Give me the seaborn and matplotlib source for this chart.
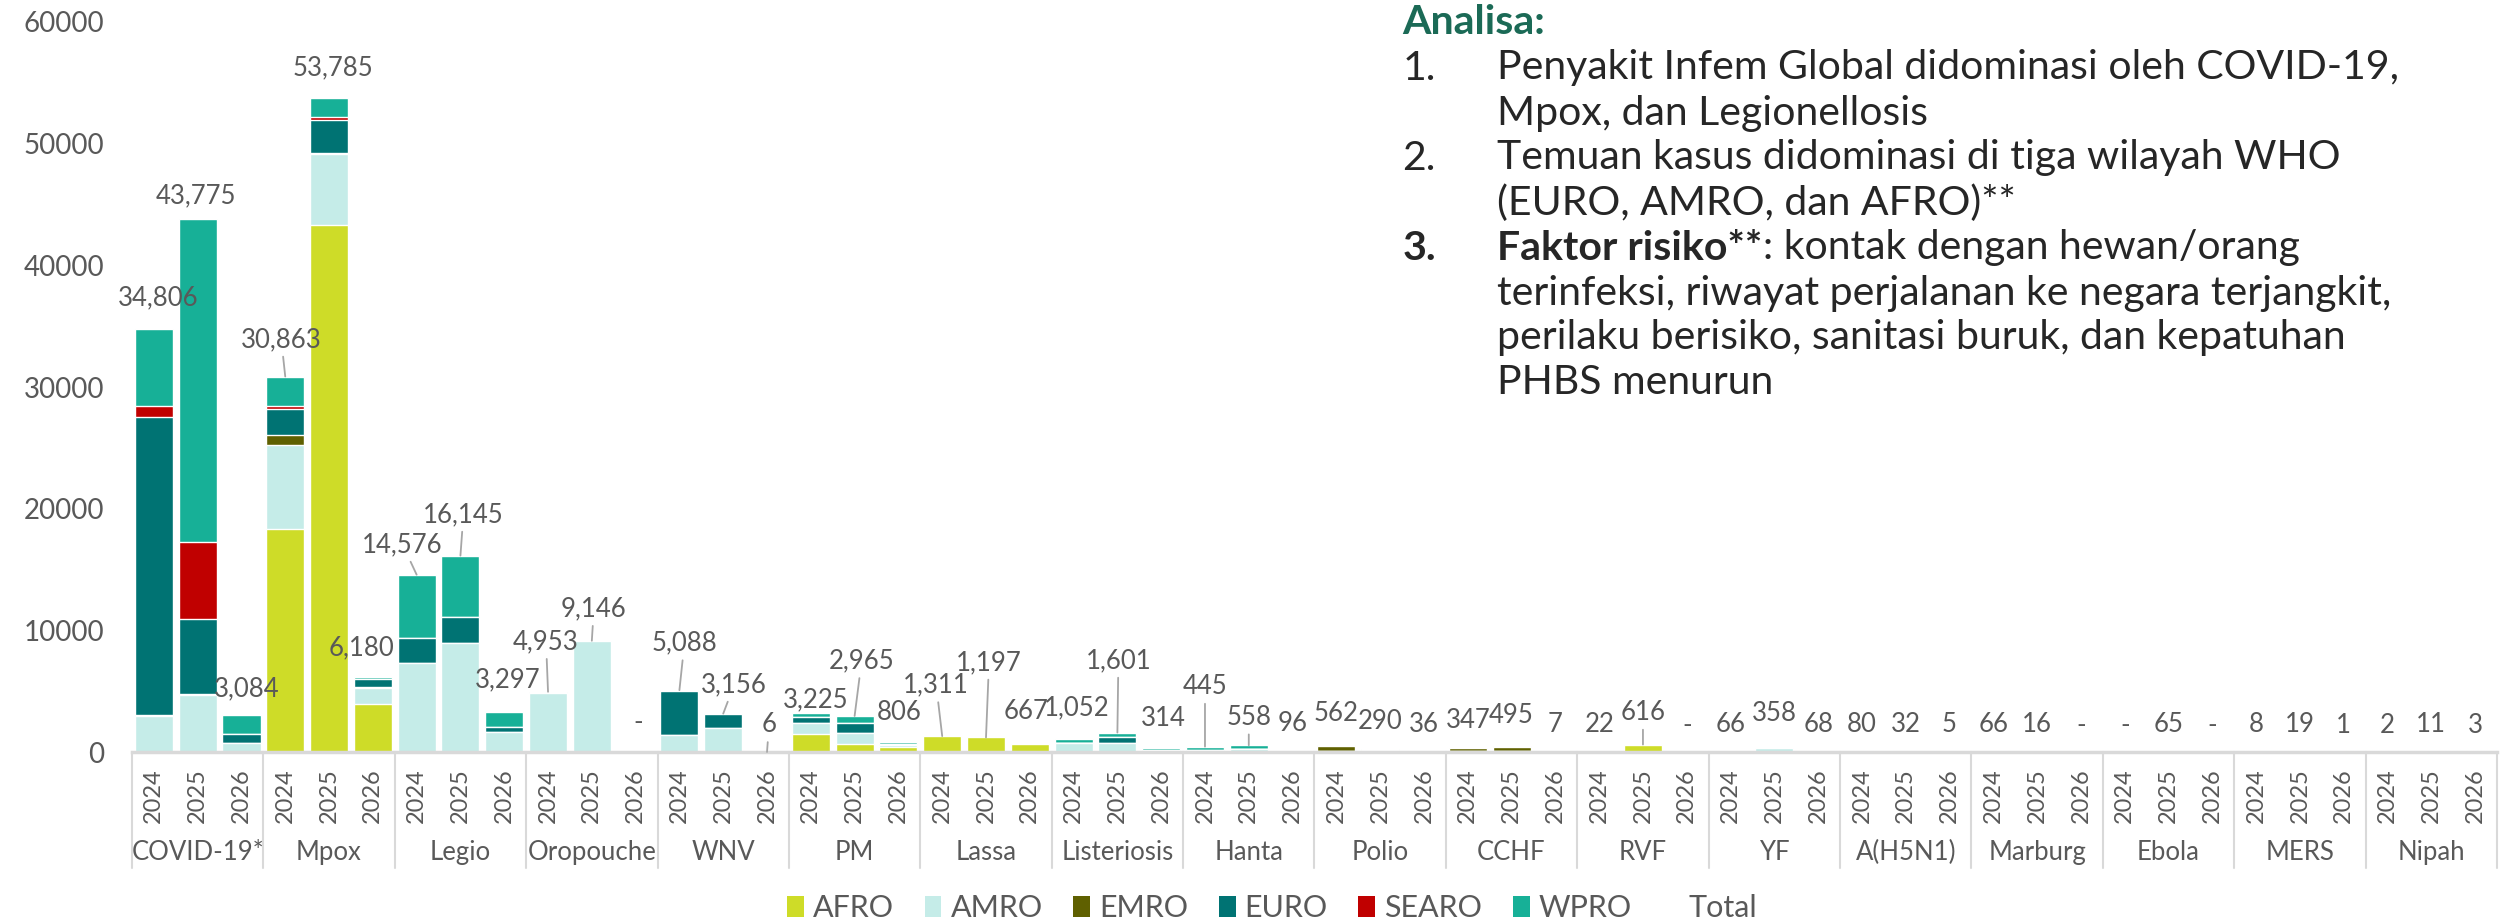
import numpy as np
import pandas as pd
import seaborn as sns
import matplotlib.pyplot as plt
from matplotlib.patches import Patch
from matplotlib import transforms

diseases = ['COVID-19*', 'Mpox', 'Legio', 'Oropouche', 'WNV', 'PM', 'Lassa',
            'Listeriosis', 'Hanta', 'Polio', 'CCHF', 'RVF', 'YF', 'A(H5N1)',
            'Marburg', 'Ebola', 'MERS', 'Nipah']
years = ['2024', '2025', '2026']
regions = ['AFRO', 'AMRO', 'EMRO', 'EURO', 'SEARO', 'WPRO']

# cases per WHO region, one [2024, 2025, 2026] triple per disease
afro = [[0, 0, 0], [18330, 43292, 3926], [0, 0, 0], [0, 0, 0], [0, 0, 0],
        [1480, 660, 400], [1280, 1197, 667], [0, 0, 0], [0, 0, 0],
        [90, 160, 20], [60, 50, 0], [22, 616, 0], [26, 0, 8], [0, 0, 0],
        [66, 16, 0], [0, 65, 0], [0, 0, 0], [0, 0, 0]]
amro = [[2950, 4700, 720], [6937, 5818, 1368], [7300, 9000, 1674], [4860, 9090, 0],
        [1400, 1960, 0], [930, 930, 150], [31, 0, 0], [760, 760, 0],
        [120, 280, 50], [0, 0, 0], [0, 0, 0], [0, 0, 0], [40, 358, 60],
        [66, 20, 0], [0, 0, 0], [0, 0, 0], [0, 0, 0], [0, 0, 0]]
emro = [[100, 100, 0], [824, 100, 20], [0, 0, 0], [0, 0, 0], [0, 0, 0],
        [0, 0, 0], [0, 0, 0], [0, 0, 0], [0, 0, 0], [390, 40, 16],
        [280, 360, 7], [0, 0, 0], [0, 0, 0], [0, 0, 0], [0, 0, 0],
        [0, 0, 0], [8, 19, 1], [0, 0, 0]]
euro = [[24500, 6150, 760], [2115, 2724, 670], [2110, 2060, 356], [93, 56, 0],
        [3620, 1150, 6], [440, 770, 150], [0, 0, 0], [0, 500, 180],
        [25, 0, 0], [0, 0, 0], [7, 0, 0], [0, 0, 0], [0, 0, 0], [0, 0, 0],
        [0, 0, 0], [0, 0, 0], [0, 0, 0], [0, 0, 0]]
searo = [[930, 6330, 0], [214, 222, 50], [0, 0, 0], [0, 0, 0], [0, 0, 0],
         [0, 0, 0], [0, 0, 0], [0, 0, 0], [0, 0, 0], [82, 0, 0],
         [0, 85, 0], [0, 0, 0], [0, 0, 0], [0, 0, 0], [0, 0, 0],
         [0, 0, 0], [0, 0, 0], [2, 11, 3]]
wpro = [[6326, 26495, 1604], [2443, 1629, 146], [5166, 5085, 1267], [0, 0, 0],
        [68, 46, 0], [375, 605, 106], [0, 0, 0], [292, 341, 134],
        [300, 278, 46], [0, 90, 0], [0, 0, 0], [0, 0, 0], [0, 0, 0],
        [14, 12, 5], [0, 0, 0], [0, 0, 0], [0, 0, 0], [0, 0, 0]]

colors = {'AFRO': '#CEDC28', 'AMRO': '#C5ECE8', 'EMRO': '#5F6000',
          'EURO': '#007373', 'SEARO': '#C00000', 'WPRO': '#17B097'}

# label placement (pixels from bar top) and leader-line flags
label_dx = [4, -2, 5, -4, 4, -11, -14, 3, 3, -2, 2, 3, 5, 11, 2, 5, 7, 1, -6, 3, -4,
            3, 1, 2, 0, 0] + [0] * 28
label_dy = [31, 24, 26, 37, 30, 29, 30, 41, 32, 50, 32, 30, 47, 29, 27, 13, 55, 30,
            51, 75, 32, 31, 72, 30, 60, 28] + [27] * 28
label_dy[27] = 32
label_dy[31] = 31
label_dy[34] = 32
label_dy[37] = 34
leaders = {3, 6, 7, 9, 10, 12, 13, 14, 16, 18, 19, 22, 24, 25, 34}

# long table
rows = []
for d, name in enumerate(diseases):
    for y, yr in enumerate(years):
        row = {'disease': name, 'year': yr, 'bar': name + ' ' + yr}
        for reg, vals in zip(regions, [afro, amro, emro, euro, searo, wpro]):
            row[reg] = vals[d][y]
        rows.append(row)
df = pd.DataFrame(rows)
cum = df[regions].cumsum(axis=1)
for reg in regions:
    df['top_' + reg] = cum[reg]
df['total'] = cum['WPRO']
order = list(df['bar'])

sns.set_theme(style='white')
plt.rcParams['font.family'] = ['Lato', 'DejaVu Sans']
grey = '#595959'

fig = plt.figure(figsize=(25.04, 9.24), dpi=100)
ax = fig.add_axes([0.0527, 0.1861, 0.9445, 0.7901])

# stacked bars: draw cumulative tops from the highest layer down
for reg in reversed(regions):
    sns.barplot(data=df, x='bar', y='top_' + reg, order=order, color=colors[reg],
                saturation=1, width=0.87, errorbar=None, ax=ax)

ax.set_xlim(-0.5, len(order) - 0.5)
ax.set_ylim(0, 60000)
ax.set_yticks(range(0, 60001, 10000))
ax.set_yticklabels([str(v) for v in range(0, 60001, 10000)])
ax.tick_params(axis='y', labelsize=20, colors=grey, length=0, pad=20)
ax.set_xticks(range(len(order)))
ax.set_xticklabels(list(df['year']), rotation=90, fontsize=17, color=grey)
ax.tick_params(axis='x', length=0, pad=12)
ax.set_xlabel('')
ax.set_ylabel('')
for s in ['left', 'top', 'right']:
    ax.spines[s].set_visible(False)
ax.spines['bottom'].set_color('#D9D9D9')
ax.spines['bottom'].set_linewidth(2.5)

trans = transforms.blended_transform_factory(ax.transData, ax.transAxes)
for k in range(len(diseases) + 1):
    ax.plot([3 * k - 0.5] * 2, [0, -0.159], transform=trans, color='#D9D9D9',
            lw=1.5, clip_on=False)
for k, name in enumerate(diseases):
    ax.text(3 * k + 1, -0.138, name, transform=trans, ha='center', va='center',
            fontsize=18.5, color=grey)

# total labels
for i, t in enumerate(df['total']):
    txt = f'{t:,}' if t > 0 else '-'
    arrow = None
    if i in leaders:
        arrow = dict(arrowstyle='-', color='#A6A6A6', lw=1.3, shrinkA=1, shrinkB=0)
    ax.annotate(txt, xy=(i, t), xytext=(label_dx[i] * 0.72, label_dy[i] * 0.72),
                textcoords='offset points', ha='center', va='center',
                fontsize=18.5, color=grey, arrowprops=arrow, annotation_clip=False)

handles = [Patch(facecolor=colors[r], edgecolor='none') for r in regions]
handles.append(Patch(facecolor='none', edgecolor='none'))
fig.legend(handles, regions + ['Total'], loc='center', bbox_to_anchor=(0.508, 0.017),
           ncol=7, frameon=False, fontsize=22, handlelength=0.55, handleheight=0.65,
           handletextpad=0.3, columnspacing=1.0, labelcolor=grey)

# analysis text block
x_num, x_txt = 0.560, 0.598
body = '#262626'
fs = 29.5
def fy(px):
    return 1 - px / 924

fig.text(x_num, fy(23), 'Analisa:', fontsize=fs, fontweight='bold', color='#1B6A56',
         va='center', ha='left')
fig.text(x_num, fy(68), '1.', fontsize=fs, color=body, va='center')
fig.text(x_txt, fy(68), 'Penyakit Infem Global didominasi oleh COVID-19,', fontsize=fs,
         color=body, va='center')
fig.text(x_txt, fy(113), 'Mpox, dan Legionellosis', fontsize=fs, color=body, va='center')
fig.text(x_num, fy(158), '2.', fontsize=fs, color=body, va='center')
fig.text(x_txt, fy(158), 'Temuan kasus didominasi di tiga wilayah WHO', fontsize=fs,
         color=body, va='center')
fig.text(x_txt, fy(203), '(EURO, AMRO, dan AFRO)**', fontsize=fs, color=body, va='center')
fig.text(x_num, fy(248), '3.', fontsize=fs, fontweight='bold', color=body, va='center')
bold = fig.text(x_txt, fy(248), 'Faktor risiko**', fontsize=fs, fontweight='bold',
                color=body, va='center')
ax.annotate(': kontak dengan hewan/orang', xy=(1, 0), xycoords=bold, va='bottom',
            ha='left', fontsize=fs, color=body, annotation_clip=False)
fig.text(x_txt, fy(293), 'terinfeksi, riwayat perjalanan ke negara terjangkit,',
         fontsize=fs, color=body, va='center')
fig.text(x_txt, fy(338), 'perilaku berisiko, sanitasi buruk, dan kepatuhan', fontsize=fs,
         color=body, va='center')
fig.text(x_txt, fy(383), 'PHBS menurun', fontsize=fs, color=body, va='center')

fig.savefig('out.png', dpi=100)
